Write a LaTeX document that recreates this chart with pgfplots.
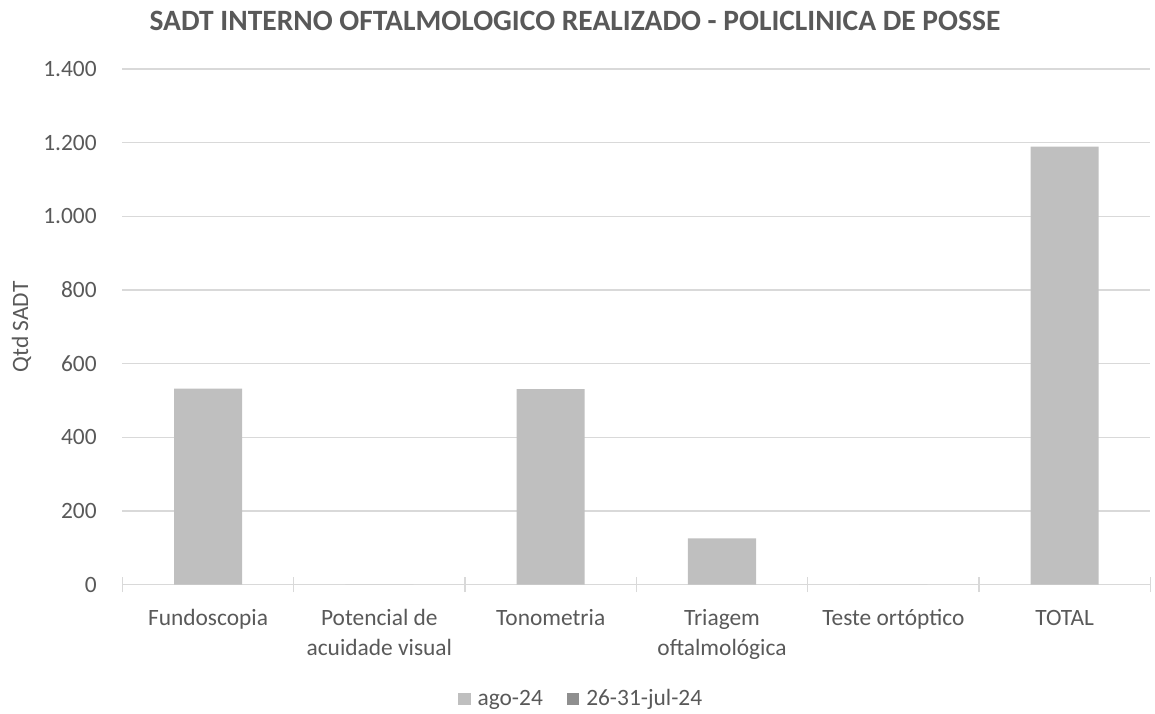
\documentclass[border=0pt]{standalone}
\usepackage{pgfplots}
\pgfplotsset{compat=1.18}
\usepackage{fontspec}
\setmainfont{Carlito}
\definecolor{txt}{HTML}{595959}
\definecolor{gridc}{HTML}{D9D9D9}
\definecolor{barA}{HTML}{BFBFBF}
\definecolor{barB}{HTML}{8F8F8F}
\newcommand\st{\rule{0pt}{18pt}}
\begin{document}
\begin{tikzpicture}[x=1pt,y=1pt]
\useasboundingbox (0,0) rectangle (1155,713);
\begin{axis}[
  at={(122.4pt,128.3pt)}, anchor=south west,
  scale only axis, width=1027.9pt, height=515.7pt,
  xmin=-0.5, xmax=5.5, ymin=0, ymax=1400,
  axis x line*=bottom, axis y line*=left,
  y axis line style={draw=none},
  x axis line style={-, draw=gridc, line width=1.2pt},
  tick align=center,
  ytick={0,200,...,1400},
  ytick style={draw=none},
  ymajorgrids, grid style={draw=gridc, line width=1.2pt},
  xtick={0,1,2,3,4,5},
  xticklabels={\st Fundoscopia, \st Potencial de\\acuidade visual, \st Tonometria, \st Triagem\\oftalmológica, \st Teste ortóptico, \st TOTAL},
  xtick style={draw=none},
  minor xtick={-0.5,0.5,...,5.5},
  minor x tick style={draw=gridc, line width=1.2pt},
  minor tick length=14.6pt,
  /pgf/number format/assume math mode=true,
  /pgf/number format/1000 sep={.},
  yticklabel style={font=\fontsize{23.4}{28}\selectfont, text=txt, inner sep=0pt, anchor=east, xshift=-23.4pt},
  xticklabel style={font=\fontsize{23.4}{30}\selectfont, text=txt, inner sep=0pt, anchor=north, yshift=-20pt, align=center},
  ylabel={Qtd SADT},
  ylabel style={at={(axis description cs:-0.0918,0.5)}, anchor=base, inner sep=0pt, font=\fontsize{23.4}{28}\selectfont, text=txt},
  title={SADT INTERNO OFTALMOLOGICO REALIZADO - POLICLINICA DE POSSE},
  title style={at={(axis description cs:0.4403,1.0634)}, anchor=base, inner sep=0pt, font=\bfseries\fontsize{29.5}{35}\selectfont, text=txt},
  legend image code/.code={\fill[#1] (0pt,-5.5pt) rectangle (12.7pt,7.2pt);},
  legend style={at={(axis description cs:0.4452,-0.2441)}, anchor=south, draw=none, fill=none, inner sep=0pt,
    legend columns=2, font=\fontsize{23.4}{28}\selectfont, text=txt,
    /tikz/every even column/.append style={column sep=23.7pt},
    /tikz/every odd column/.append style={column sep=7pt},
    nodes={inner sep=0pt, text height=16pt, text depth=5pt}},
]
\addplot[ybar, bar shift=0pt, bar width=0.397, fill=barA, draw=none, forget plot]
  coordinates {(0,532) (1,0) (2,531) (3,126) (4,0) (5,1189)};
\addlegendimage{fill=barA, draw=none}
\addlegendentry{ago-24}
\addlegendimage{fill=barB, draw=none}
\addlegendentry{26-31-jul-24}
\end{axis}
\end{tikzpicture}
\end{document}
